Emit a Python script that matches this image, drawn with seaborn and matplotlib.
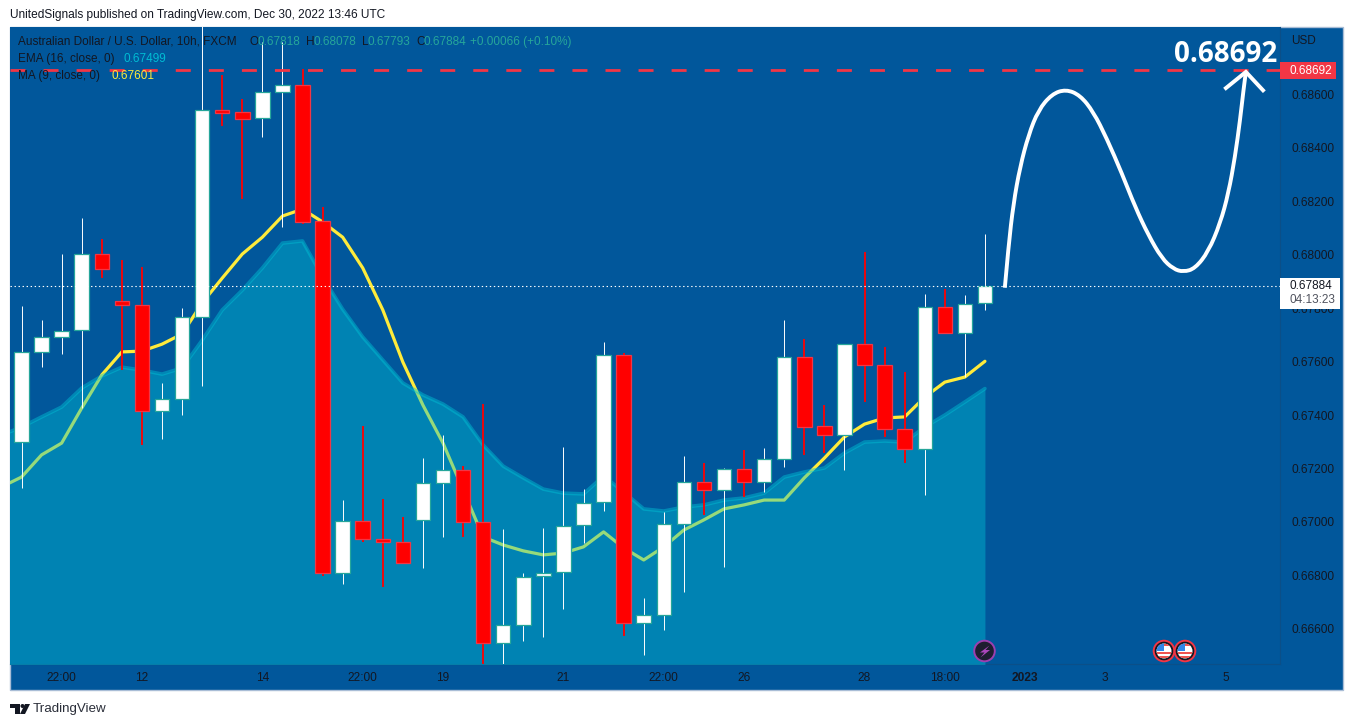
import numpy as np
import pandas as pd
import matplotlib
matplotlib.use("Agg")
import matplotlib.pyplot as plt
from matplotlib.patches import Circle, PathPatch, Polygon, Rectangle
from matplotlib.path import Path
import seaborn as sns

# AUD/USD 10h candles
opens = [0.67299, 0.67636, 0.67692, 0.67718, 0.68002, 0.67826, 0.67811, 0.67415, 0.67460, 0.67766,
         0.68540, 0.68533, 0.68510, 0.68608, 0.68634, 0.68125, 0.66809, 0.67004, 0.66936, 0.66925,
         0.67008, 0.67146, 0.67194, 0.67000, 0.66548, 0.66615, 0.66798, 0.66813, 0.66989, 0.67075,
         0.67624, 0.66622, 0.66652, 0.66993, 0.67150, 0.67120, 0.67198, 0.67150, 0.67236, 0.67617,
         0.67359, 0.67325, 0.67665, 0.67587, 0.67348, 0.67273, 0.67804, 0.67707, 0.67818]
closes = [0.67636, 0.67692, 0.67714, 0.68002, 0.67946, 0.67811, 0.67415, 0.67460, 0.67766, 0.68540,
          0.68529, 0.68507, 0.68608, 0.68634, 0.68122, 0.66809, 0.67004, 0.66936, 0.66925, 0.66847,
          0.67146, 0.67194, 0.67000, 0.66548, 0.66615, 0.66794, 0.66809, 0.66985, 0.67071, 0.67624,
          0.66622, 0.66652, 0.66993, 0.67150, 0.67120, 0.67198, 0.67150, 0.67236, 0.67617, 0.67355,
          0.67325, 0.67665, 0.67587, 0.67348, 0.67273, 0.67804, 0.67707, 0.67815, 0.67884]
highs = [0.67807, 0.67755, 0.68002, 0.68136, 0.68058, 0.67979, 0.67953, 0.67520, 0.67800, 0.68877,
         0.68671, 0.68581, 0.68794, 0.68794, 0.68694, 0.68178, 0.67082, 0.67359, 0.67086, 0.67019,
         0.67239, 0.67325, 0.67209, 0.67441, 0.66974, 0.66809, 0.66978, 0.67280, 0.67123, 0.67673,
         0.67632, 0.66716, 0.67037, 0.67247, 0.67221, 0.67202, 0.67269, 0.67277, 0.67755, 0.67684,
         0.67437, 0.67665, 0.68009, 0.67654, 0.67561, 0.67852, 0.67871, 0.67849, 0.68078]
lows = [0.67127, 0.67579, 0.67628, 0.67426, 0.67912, 0.67568, 0.67288, 0.67310, 0.67400, 0.67508,
        0.68480, 0.68208, 0.68439, 0.68103, 0.68114, 0.66798, 0.66768, 0.66925, 0.66757, 0.66847,
        0.66828, 0.66944, 0.66944, 0.66454, 0.66469, 0.66555, 0.66570, 0.66675, 0.66921, 0.67041,
        0.66574, 0.66503, 0.66596, 0.66738, 0.67026, 0.66832, 0.67094, 0.67112, 0.67206, 0.67251,
        0.67258, 0.67194, 0.67449, 0.67318, 0.67221, 0.67101, 0.67707, 0.67542, 0.67793]

# indicators start one bar before the first visible candle
ema_16 = [0.67325, 0.67355, 0.67393, 0.67430, 0.67501, 0.67546, 0.67579, 0.67568, 0.67553, 0.67576,
          0.67680, 0.67793, 0.67867, 0.67950, 0.68043, 0.68051, 0.67916, 0.67796, 0.67692, 0.67606,
          0.67520, 0.67475, 0.67441, 0.67393, 0.67288, 0.67209, 0.67165, 0.67123, 0.67108, 0.67105,
          0.67172, 0.67112, 0.67049, 0.67041, 0.67056, 0.67064, 0.67082, 0.67090, 0.67108, 0.67168,
          0.67187, 0.67202, 0.67258, 0.67299, 0.67303, 0.67299, 0.67355, 0.67400, 0.67449, 0.67499]
ma_9 = [0.67131, 0.67168, 0.67251, 0.67295, 0.67426, 0.67550, 0.67636, 0.67639, 0.67665, 0.67703,
        0.67819, 0.67912, 0.68002, 0.68065, 0.68144, 0.68170, 0.68122, 0.68065, 0.67950, 0.67793,
        0.67598, 0.67437, 0.67295, 0.67120, 0.66944, 0.66914, 0.66892, 0.66877, 0.66884, 0.66907,
        0.66963, 0.66903, 0.66858, 0.66907, 0.66970, 0.67008, 0.67049, 0.67064, 0.67082, 0.67082,
        0.67165, 0.67239, 0.67318, 0.67366, 0.67389, 0.67393, 0.67467, 0.67523, 0.67542, 0.67601]

# hand drawn forecast arrow
arrow_bar = [48.99, 49.17, 49.42, 49.75, 50.17, 50.66, 51.33, 52.03, 52.74, 53.40, 54.07, 54.82, 55.48,
             56.14, 56.81, 57.39, 57.89, 58.47, 59.13, 59.72, 60.13, 60.46, 60.71, 60.88, 61.00]
arrow_price = [0.67876, 0.68029, 0.68191, 0.68328, 0.68447, 0.68540, 0.68600, 0.68618, 0.68596,
               0.68534, 0.68434, 0.68304, 0.68179, 0.68073, 0.67986, 0.67946, 0.67935, 0.67948,
               0.68011, 0.68117, 0.68229, 0.68366, 0.68503, 0.68615, 0.68683]
head_bar = [59.93, 61.00, 61.92]
head_price = [0.68618, 0.68683, 0.68609]

target_price = 0.68692
last_price = 0.67884

price_ticks = [0.666, 0.668, 0.670, 0.672, 0.674, 0.676, 0.678, 0.680, 0.682, 0.684, 0.686]
date_tick_bars = [2, 6, 12, 17, 21, 27, 32, 36, 42, 46, 50, 54, 60]
date_tick_labels = ['22:00', '12', '14', '22:00', '19', '21', '22:00', '26', '28', '18:00', '2023', '3', '5']

PANE = '#01579b'
DARK = '#131722'
TEAL = '#26a69a'
RED_LINE = '#f23645'

sns.set_theme(style="dark")
plt.rcParams['font.family'] = ['Liberation Sans', 'DejaVu Sans']
plt.rcParams['lines.scale_dashes'] = False

W, H = 1354, 727
fig = plt.figure(figsize=(W / 100, H / 100), dpi=100, facecolor='white')

# outer frame behind the chart, axis strips included
bg = fig.add_axes([0, 0, 1, 1], zorder=0)
bg.set_xlim(0, W)
bg.set_ylim(H, 0)
bg.axis('off')
bg.add_patch(Rectangle((10, 27), 1333, 663, facecolor=PANE, edgecolor='#a9bdd6', linewidth=1))

ax = fig.add_axes([10 / W, 1 - 664 / H, 1270 / W, 637 / H], zorder=1, facecolor=PANE)
bars = np.arange(len(opens))
candles = pd.DataFrame({'bar': bars, 'open': opens, 'close': closes, 'high': highs, 'low': lows})
candles['up'] = candles['close'] >= candles['open']
lines = pd.DataFrame({'bar': np.arange(-1, len(opens)), 'ema': ema_16, 'ma': ma_9})

# MA goes under the area, that is what turns it green inside the fill
sns.lineplot(data=lines, x='bar', y='ma', ax=ax, color='#ffeb3b', linewidth=2.3, estimator=None, zorder=2)
ax.fill_between(lines['bar'], lines['ema'], 0.66, color='#00c3d6', alpha=0.41, linewidth=0, zorder=3)
sns.lineplot(data=lines, x='bar', y='ema', ax=ax, color='#00c3d6', alpha=0.45, linewidth=2.6, estimator=None, zorder=3)

for up, body, edge, wick_width in [(True, '#ffffff', TEAL, 0.7), (False, '#ff0000', RED_LINE, 1.3)]:
    part = candles[candles['up'] == up]
    # white stays on one pixel column, red needs two to stand out on the blue
    for row in part.itertuples():
        ax.plot([row.bar, row.bar], [row.low, row.high], color=body, linewidth=wick_width,
                solid_capstyle='butt', zorder=4)
    ax.bar(part['bar'], part['close'] - part['open'], bottom=part['open'], width=0.72,
           color=body, edgecolor=edge, linewidth=0.9, zorder=5)

ax.axhline(target_price, color=RED_LINE, linewidth=2.0, linestyle=(0, (10.8, 13.0)), zorder=6)
ax.axhline(last_price, color='white', linewidth=0.8, linestyle=(0, (1.0, 1.9)), zorder=6)

# quadratic pieces through the read points keep the drawn curve smooth
curve_pts = list(zip(arrow_bar, arrow_price))
verts = [curve_pts[0]]
codes = [Path.MOVETO]
for p, q in zip(curve_pts[1:-1], curve_pts[2:]):
    verts += [p, ((p[0] + q[0]) / 2, (p[1] + q[1]) / 2)]
    codes += [Path.CURVE3, Path.CURVE3]
verts.append(curve_pts[-1])
codes.append(Path.LINETO)
ax.add_patch(PathPatch(Path(verts, codes), fill=False, edgecolor='white', linewidth=2.8, capstyle='butt', zorder=7))
ax.plot(head_bar, head_price, color='white', linewidth=2.8, solid_capstyle='butt', solid_joinstyle='miter', zorder=7)

ax.set_xlim(-0.573, 62.7)
ax.set_ylim(0.66469, 0.68851)
ax.grid(False)
ax.set_xlabel('')
ax.set_ylabel('')
ax.yaxis.tick_right()
ax.set_yticks(price_ticks)
ax.set_yticklabels([f'{p:.5f}' for p in price_ticks])
ax.set_xticks(date_tick_bars)
ax.set_xticklabels(date_tick_labels)
ax.tick_params(axis='x', length=0, pad=6, labelsize=8.6, labelcolor=DARK)
ax.tick_params(axis='y', length=0, pad=8, labelsize=8.6, labelcolor=DARK)
ax.get_xticklabels()[10].set_fontweight('bold')
for side in ['top', 'left']:
    ax.spines[side].set_visible(False)
for side in ['bottom', 'right']:
    ax.spines[side].set_color('#0b4f88')
    ax.spines[side].set_linewidth(0.8)

# overlay in pixels for the texts, price labels and event icons
over = fig.add_axes([0, 0, 1, 1], zorder=2)
over.set_xlim(0, W)
over.set_ylim(H, 0)
over.axis('off')


def label(x, y, s, color=DARK, size=8.5, **kw):
    over.text(x, y, s, color=color, fontsize=size, va='center', **kw)


label(10, 15, 'UnitedSignals published on TradingView.com, Dec 30, 2022 13:46 UTC', color='#131722', size=8.6)
label(18, 42, 'Australian Dollar / U.S. Dollar, 10h, FXCM')
for x, s, c in [(250, 'O', DARK), (257, '0.67818', TEAL), (306, 'H', DARK), (313, '0.68078', TEAL),
                (362, 'L', DARK), (367, '0.67793', TEAL), (416, 'C', DARK), (423, '0.67884', TEAL),
                (470, '+0.00066 (+0.10%)', TEAL)]:
    label(x, 42, s, color=c)
label(18, 59, 'EMA (16, close, 0)')
label(123, 59, '0.67499', color='#00bcd4')
label(18, 76, 'MA (9, close, 0)')
label(112, 76, '0.67601', color='#ffeb3b')
label(1291, 41, 'USD')

over.text(1277, 54, '0.68692', color='white', fontsize=20, fontweight='bold', family='Open Sans',
          ha='right', va='center')

over.add_patch(Rectangle((1280, 62), 56, 17, facecolor=RED_LINE, edgecolor='none'))
label(1290, 71, '0.68692', color='white')
over.add_patch(Rectangle((1280, 278), 60, 31, facecolor='white', edgecolor='none'))
label(1290, 286, '0.67884', color=DARK)
label(1290, 300, '04:13:23', color='#50535e')


def flag_icon(cx, cy):
    over.add_patch(Circle((cx, cy), 10.3, facecolor=DARK, edgecolor=RED_LINE, linewidth=1.4))
    disc = Circle((cx, cy), 7.5, facecolor='white', edgecolor='none')
    over.add_patch(disc)
    for top in [cy - 7.5, cy + 1, cy + 5]:
        stripe = Rectangle((cx - 8, top), 16, 2.4, facecolor='#ef5350', edgecolor='none')
        over.add_patch(stripe)
        stripe.set_clip_path(disc)
    canton = Rectangle((cx - 8, cy - 8), 8, 8, facecolor='#2f86e8', edgecolor='none')
    over.add_patch(canton)
    canton.set_clip_path(disc)


flag_icon(1164, 651)
flag_icon(1185, 651)

# earnings style lightning icon
over.add_patch(Circle((984.5, 651), 10.3, facecolor='#1e1e30', edgecolor='#9c3fb0', linewidth=1.4))
over.add_patch(Polygon([(989.5, 645.5), (980, 652.5), (984.5, 652.5), (980.5, 657.5), (990, 650), (985.5, 650)],
                       facecolor='#ab47bc', edgecolor='none'))

# TradingView logo
over.add_patch(Polygon([(10, 704), (20, 704), (20, 714), (15, 714), (15, 708), (10, 708)], facecolor=DARK, edgecolor='none'))
over.add_patch(Circle((22.5, 706), 2, facecolor=DARK, edgecolor='none'))
over.add_patch(Polygon([(25, 704), (30, 704), (25, 714), (20, 714)], facecolor=DARK, edgecolor='none'))
label(33, 709, 'TradingView', size=9.6, color='#2a2e39')

fig.savefig('out.png', dpi=100, facecolor='white')
